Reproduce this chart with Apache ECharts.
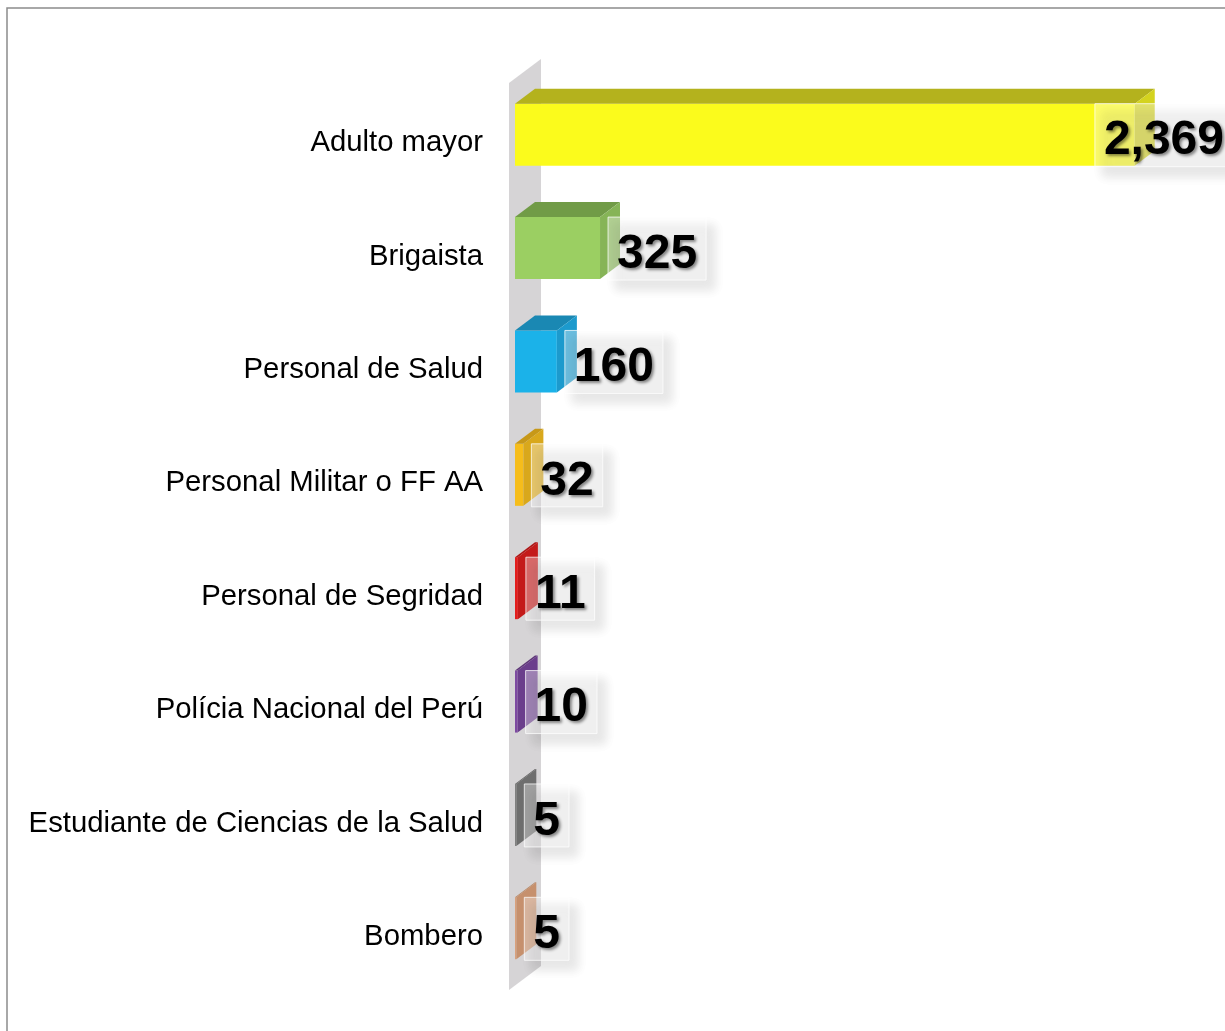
<!DOCTYPE html>
<html>
<head>
<meta charset="utf-8">
<script src="https://cdn.jsdelivr.net/npm/echarts@6/dist/echarts.min.js"></script>
<style>
html,body{margin:0;padding:0;background:#fff;}
#chart{width:1225px;height:1031px;}
</style>
</head>
<body>
<div id="chart"></div>
<script>
const categories = ['Adulto mayor','Brigaista','Personal de Salud','Personal Militar o FF AA','Personal de Segridad','Polícia Nacional del Perú','Estudiante de Ciencias de la Salud','Bombero'];
const values = [2369, 325, 160, 32, 11, 10, 5, 5];
const frontColors = ['#fbfb1c','#9bcf62','#1bb2e9','#f6bd1b','#e31d1d','#7d4aa1','#808080','#d9a07c'];
const topColors   = ['#b4b21d','#719b47','#1a88b3','#c79818','#ad1717','#5e3678','#5f5f5f','#b58462'];
const sideColors  = ['#d4d31e','#86b457','#1c9acd','#d9a81c','#c41a1a','#6b3e8c','#6e6e6e','#c6906d'];

const chart = echarts.init(document.getElementById('chart'));
const LABEL_FONT = 'bold 48px "Liberation Sans", Arial, sans-serif';
const measureCtx = document.createElement('canvas').getContext('2d');
function textWidth(t){ measureCtx.font = LABEL_FONT; return measureCtx.measureText(t).width; }
function fmt(v){ return v.toLocaleString('en-US'); }

const DX = 20, DY = -15;

const option = {
  backgroundColor: '#ffffff',
  animation: false,
  graphic: [{
    type: 'rect', shape: {x: 7, y: 8, width: 1240, height: 1040},
    style: {fill: 'none', stroke: '#8c8c8c', lineWidth: 1.5}, z: 100
  }],
  grid: {left: 515, top: 83, bottom: 41, right: 56},
  xAxis: {type: 'value', min: 0, max: 2500, show: false},
  yAxis: {
    type: 'category', data: categories, inverse: true,
    axisLine: {show: false}, axisTick: {show: false}, splitLine: {show: false},
    axisLabel: {
      margin: 32,
      formatter: function(v){ return '{a|' + v + '}'; },
      rich: {a: {fontSize: 29.3, lineHeight: 29, color: '#000', padding: [7, 0, 0, 0],
        fontFamily: '"Liberation Sans", Arial, sans-serif'}}
    }
  },
  series: [
    {
      type: 'custom', z: 1, silent: true,
      data: [[0, 0]],
      renderItem: function(params, api){
        const cs = params.coordSys;
        const zero = api.coord([0, 0])[0];
        const xf = zero - 6, xb = zero + 26, dyw = -24;
        return {
          type: 'polygon',
          shape: {points: [[xf, cs.y], [xb, cs.y + dyw], [xb, cs.y + cs.height + dyw], [xf, cs.y + cs.height]]},
          style: {fill: '#d6d4d6'}
        };
      }
    },
    {
      type: 'custom', z: 2, silent: true,
      data: values.map((v, i) => [v, i]),
      encode: {x: 0, y: 1},
      renderItem: function(params, api){
        const i = params.dataIndex;
        const v = api.value(0);
        const zero = api.coord([0, i]);
        const end = api.coord([v, i]);
        const cy = end[1];
        const top = cy - 36, bottom = cy + 26;
        const x0 = zero[0], x1 = end[0];
        const txt = fmt(v);
        const padX = 9;
        const boxW = textWidth(txt) + 2 * padX;
        const boxH = 63;
        const W = api.getWidth();
        let bx = x1 + 8;
        if (bx + boxW > W + 8) bx = W + 8 - boxW;
        const by = top;
        return {
          type: 'group',
          children: [
            {type: 'rect', shape: {x: x0, y: top, width: x1 - x0, height: bottom - top}, style: {fill: frontColors[i]}},
            {type: 'polygon', shape: {points: [[x0, top], [x0 + DX, top + DY], [x1 + DX, top + DY], [x1, top]]}, style: {fill: topColors[i]}},
            {type: 'polygon', shape: {points: [[x1, top], [x1 + DX, top + DY], [x1 + DX, bottom + DY], [x1, bottom]]}, style: {fill: sideColors[i]}},
            {type: 'rect', shape: {x: bx, y: by, width: boxW, height: boxH},
              style: {fill: 'rgba(255,255,255,0.35)', stroke: 'rgba(255,255,255,0.75)', lineWidth: 1,
                shadowColor: 'rgba(0,0,0,0.28)', shadowBlur: 10, shadowOffsetX: 8, shadowOffsetY: 9}},
            {type: 'text', x: bx + padX, y: by + boxH / 2 + 6,
              style: {
                text: txt, font: LABEL_FONT, fill: '#000',
                align: 'left', verticalAlign: 'middle',
                textShadowColor: 'rgba(0,0,0,0.45)', textShadowBlur: 3, textShadowOffsetX: 2, textShadowOffsetY: 2
              }
            }
          ]
        };
      }
    }
  ]
};
chart.setOption(option);
</script>
</body>
</html>
